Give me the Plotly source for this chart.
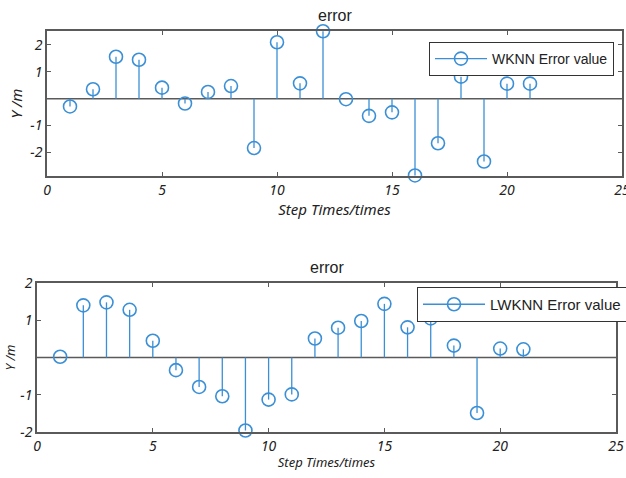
import plotly.graph_objects as go

steps = list(range(1, 22))
wknn_err = [-0.29, 0.35, 1.56, 1.45, 0.41, -0.18, 0.25, 0.47, -1.84, 2.10, 0.57,
            2.51, -0.02, -0.64, -0.51, -2.86, -1.66, 0.82, -2.34, 0.56, 0.56]
lwknn_err = [0.02, 1.40, 1.48, 1.28, 0.45, -0.34, -0.79, -1.04, -1.96, -1.13, -0.99,
             0.51, 0.80, 0.98, 1.44, 0.81, 1.05, 0.32, -1.49, 0.24, 0.22]
x_ticks = [0, 5, 10, 15, 20, 25]
y_ticks = [-2, -1, 1, 2]

BLUE = "#3a8fd6"
FRAME = "#5a5a5a"
W, H = 626, 478

fig = go.Figure()


def add_stem(xs, ys, name, xa, ya, legend):
    sx, sy, mx, my = [], [], [], []
    for x, y in zip(xs, ys):
        sx += [x, x, None]
        sy += [0, y, None]
        mx += [x, None]
        my += [y, None]
    fig.add_trace(go.Scatter(x=sx, y=sy, mode="lines", line=dict(color=BLUE, width=1.3),
                             xaxis=xa, yaxis=ya, showlegend=False, hoverinfo="skip",
                             cliponaxis=False))
    fig.add_trace(go.Scatter(x=mx, y=my, mode="lines+markers", name=name,
                             line=dict(color=BLUE, width=1.3), connectgaps=False,
                             marker=dict(symbol="circle-open", size=13, color=BLUE,
                                         line=dict(width=1.6, color=BLUE)),
                             xaxis=xa, yaxis=ya, legend=legend, cliponaxis=False))


add_stem(steps, wknn_err, "WKNN Error value", "x", "y", "legend")
add_stem(steps, lwknn_err, "LWKNN Error value", "x2", "y2", "legend2")

tickfont = dict(family="Noto Sans", size=14, color="#222", style="italic")
axcommon = dict(showline=True, linecolor=FRAME, linewidth=1.5, mirror="ticks",
                ticks="inside", ticklen=4, tickcolor=FRAME, showgrid=False,
                zeroline=False, tickfont=tickfont, automargin=False,
                ticklabeloverflow="allow")

fig.update_layout(
    width=W, height=H,
    margin=dict(l=0, r=0, t=0, b=0, autoexpand=False),
    paper_bgcolor="white", plot_bgcolor="white",
    xaxis=dict(domain=[47 / W, 622 / W], range=[0, 25], tickvals=x_ticks, anchor="y",
               title=dict(text="Step Times/times", standoff=6,
                          font=dict(family="Noto Sans", size=15, color="#222", style="italic")),
               **axcommon),
    yaxis=dict(domain=[(H - 176) / H, (H - 31) / H], range=[-2.88, 2.52], tickvals=y_ticks,
               anchor="x",
               title=dict(text="Y /m", standoff=4,
                          font=dict(family="Noto Sans", size=15, color="#222", style="italic")),
               **axcommon),
    xaxis2=dict(domain=[37 / W, 616 / W], range=[0, 25], tickvals=x_ticks, anchor="y2",
                title=dict(text="Step Times/times", standoff=4,
                           font=dict(family="Noto Sans", size=13, color="#222", style="italic")),
                **axcommon),
    yaxis2=dict(domain=[(H - 432) / H, (H - 283) / H], range=[-2, 2], tickvals=y_ticks,
                anchor="x2",
                title=dict(text="Y /m", standoff=2,
                           font=dict(family="Noto Sans", size=13, color="#222", style="italic")),
                **axcommon),
    legend=dict(x=429 / W, y=(H - 42) / H, xanchor="left", yanchor="top",
                bordercolor="#333", borderwidth=1, bgcolor="white", itemwidth=52,
                font=dict(family="Liberation Sans", size=14, color="#222"),
                tracegroupgap=0),
    legend2=dict(x=417 / W, y=(H - 287) / H, xanchor="left", yanchor="top",
                 bordercolor="#333", borderwidth=1, bgcolor="white", itemwidth=62,
                 font=dict(family="Liberation Sans", size=15, color="#222"),
                 tracegroupgap=0),
    showlegend=True,
)

# baseline at zero
for xa, ya in (("x", "y"), ("x2", "y2")):
    fig.add_shape(type="line", xref=f"{xa} domain", yref=ya, x0=0, x1=1, y0=0, y1=0,
                  line=dict(color=FRAME, width=1.5), layer="below")

# titles
fig.add_annotation(text="error", xref="paper", yref="paper", x=(47 + 622) / 2 / W,
                   y=(H - 16) / H, yanchor="middle", showarrow=False,
                   font=dict(family="Liberation Sans", size=16, color="#222"))
fig.add_annotation(text="error", xref="paper", yref="paper", x=(37 + 616) / 2 / W,
                   y=(H - 267) / H, yanchor="middle", showarrow=False,
                   font=dict(family="Liberation Sans", size=16, color="#222"))

fig.write_html("out.html", config={"displayModeBar": False},
               post_script="document.body.style.margin='0';document.body.style.overflow='hidden';")
